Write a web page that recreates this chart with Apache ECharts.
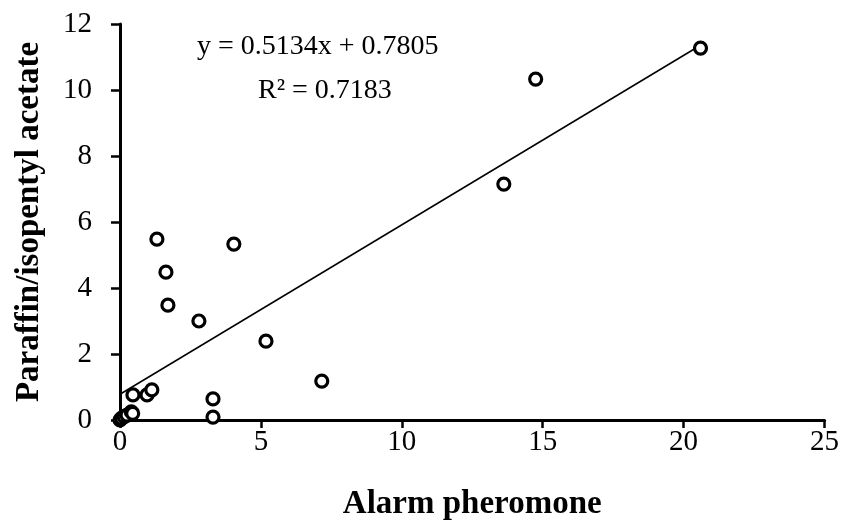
<!DOCTYPE html>
<html>
<head>
<meta charset="utf-8">
<script src="https://cdn.jsdelivr.net/npm/echarts@6/dist/echarts.min.js"></script>
<style>
  html, body { margin: 0; padding: 0; background: #fff; }
  #chart { width: 842px; height: 526px; }
</style>
</head>
<body>
<div id="chart"></div>
<script>
// values
var alarmX = [0, 0.05, 0.15, 0.25, 0.4, 0.45, 0.46, 0.96, 1.13, 1.31, 1.63, 1.70, 2.80, 3.30, 3.30, 4.04, 5.18, 7.16, 13.62, 14.75, 20.6];
var paraffinY = [0, 0.05, 0.1, 0.15, 0.25, 0.2, 0.76, 0.76, 0.91, 5.48, 4.48, 3.48, 3.0, 0.64, 0.09, 5.33, 2.39, 1.18, 7.15, 10.33, 11.27];
var xTicks = [0, 5, 10, 15, 20, 25];
var yTicks = [0, 2, 4, 6, 8, 10, 12];
var slope = 0.5134, intercept = 0.7805;
var fitRange = [0, 20.6];

var pts = [];
for (var i = 0; i < alarmX.length; i++) pts.push([alarmX[i], paraffinY[i]]);
var fitLine = fitRange.map(function (x) { return [x, slope * x + intercept]; });

var font = 'Liberation Serif';
var myChart = echarts.init(document.getElementById('chart'));
var option = {
    backgroundColor: '#fff',
    animation: false,
    grid: { left: 120, right: 17, top: 24, bottom: 106 },
    xAxis: {
        type: 'value',
        min: xTicks[0], max: xTicks[xTicks.length - 1], interval: 5,
        name: 'Alarm pheromone',
        nameLocation: 'middle', nameGap: 68,
        nameTextStyle: { fontFamily: font, fontSize: 33, fontWeight: 'bold', color: '#000' },
        axisLine: { lineStyle: { color: '#000', width: 3 } },
        axisTick: { length: 8, lineStyle: { color: '#000', width: 2.5 } },
        axisLabel: { fontFamily: font, fontSize: 29, color: '#000', margin: 8 },
        splitLine: { show: false }
    },
    yAxis: {
        type: 'value',
        min: yTicks[0], max: yTicks[yTicks.length - 1], interval: 2,
        name: 'Paraffin/isopentyl acetate',
        nameLocation: 'middle', nameGap: 74,
        nameTextStyle: { fontFamily: font, fontSize: 33, fontWeight: 'bold', color: '#000' },
        axisLine: { lineStyle: { color: '#000', width: 3 } },
        axisTick: { length: 9, lineStyle: { color: '#000', width: 2.5 } },
        axisLabel: { fontFamily: font, fontSize: 29, color: '#000', margin: 28 },
        splitLine: { show: false }
    },
    series: [
        {
            type: 'line',
            data: fitLine,
            symbol: 'none',
            lineStyle: { color: '#000', width: 1.5 },
            z: 1
        },
        {
            type: 'scatter',
            data: pts,
            symbol: 'circle',
            symbolSize: 12,
            itemStyle: { color: '#fff', borderColor: '#000', borderWidth: 3.2, opacity: 1 },
            z: 2
        }
    ],
    graphic: [
        {
            type: 'text', left: 197, top: 33,
            style: { text: 'y = 0.5134x + 0.7805', fontFamily: font, fontSize: 28, fill: '#000' }
        },
        {
            type: 'text', left: 258, top: 77,
            style: { text: 'R² = 0.7183', fontFamily: font, fontSize: 28, fill: '#000' }
        }
    ]
};
myChart.setOption(option);
</script>
</body>
</html>
